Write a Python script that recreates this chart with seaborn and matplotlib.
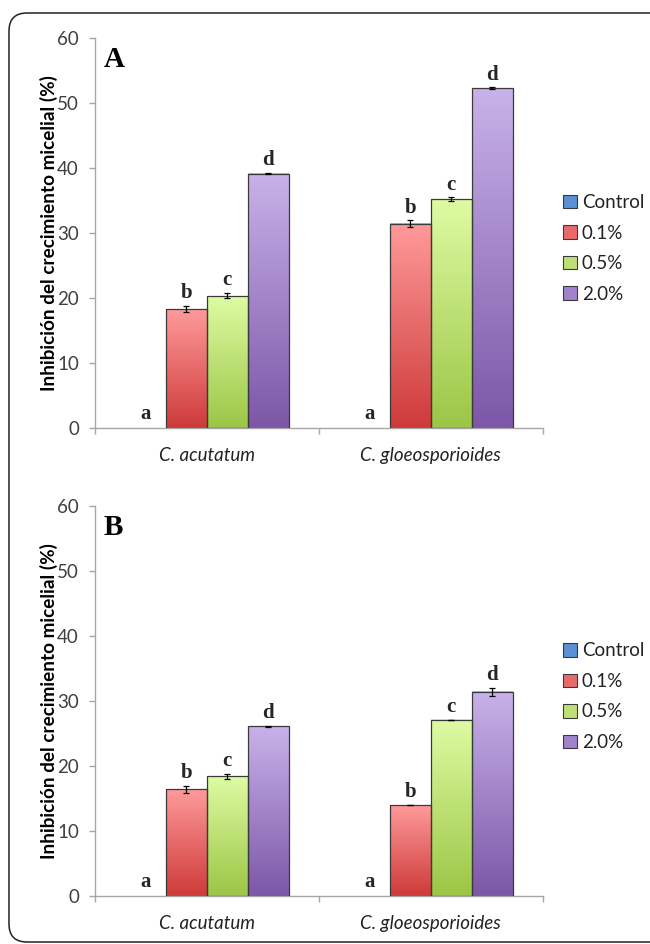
import numpy as np
import pandas as pd
import matplotlib
matplotlib.use("Agg")
import matplotlib.pyplot as plt
import seaborn as sns
from matplotlib.patches import Patch, FancyBboxPatch
from matplotlib.colors import LinearSegmentedColormap

# ---------------- data ----------------
species = ["C. acutatum", "C. gloeosporioides"]
treatments = ["Control", "0.1%", "0.5%", "2.0%"]
sig_letters = ["a", "b", "c", "d"]

# Panel A
A_acutatum = [0.0, 18.3, 20.3, 39.1]
A_acutatum_err = [0.0, 0.45, 0.40, 0.10]
A_gloeo = [0.0, 31.4, 35.2, 52.2]
A_gloeo_err = [0.0, 0.50, 0.25, 0.15]

# Panel B
B_acutatum = [0.0, 16.4, 18.4, 26.1]
B_acutatum_err = [0.0, 0.60, 0.40, 0.05]
B_gloeo = [0.0, 14.0, 27.1, 31.4]
B_gloeo_err = [0.0, 0.05, 0.05, 0.60]

panel_labels = ["A", "B"]
y_label = "Inhibición del crecimiento micelial (%)"

# ---------------- style ----------------
top_colors = ["#7FB2EE", "#FF9A9A", "#DEFBA3", "#C8B2EA"]
bot_colors = ["#3B6DC2", "#CE3A3A", "#9CC646", "#7C57A7"]
mid_colors = ["#5B8FD8", "#E86A6A", "#BDE076", "#A283CB"]
edge = "#3A3A3A"

sns.set_theme(style="white")
plt.rcParams["font.family"] = ["Lato", "DejaVu Sans"]

fig = plt.figure(figsize=(6.5, 9.44), dpi=100)

def build_df(vals_list, errs_list):
    rows = []
    for sp, vals, errs in zip(species, vals_list, errs_list):
        for t, v, e in zip(treatments, vals, errs):
            rows.append(dict(species=sp, treatment=t, value=v, err=e))
    return pd.DataFrame(rows)

def draw_panel(ax, df, letter):
    sns.barplot(data=df, x="species", y="value", hue="treatment",
                order=species, hue_order=treatments,
                palette=dict(zip(treatments, mid_colors)),
                width=0.73, gap=0, errorbar=None, edgecolor=edge,
                linewidth=0.9, legend=False, ax=ax, zorder=3)
    for ti, (cont, t) in enumerate(zip(ax.containers, treatments)):
        cmap = LinearSegmentedColormap.from_list(
            f"g{ti}", [bot_colors[ti], top_colors[ti]])
        for bar, sp in zip(cont, species):
            row = df[(df.species == sp) & (df.treatment == t)].iloc[0]
            x0 = bar.get_x()
            w = bar.get_width()
            xc = x0 + w / 2
            h = bar.get_height()
            if h <= 0:
                bar.set_visible(False)
                ax.annotate(sig_letters[ti], (xc, 0), xytext=(0, 6.5),
                            textcoords="offset points", ha="center",
                            va="baseline", fontsize=15, fontweight="bold",
                            family="Liberation Serif", zorder=6)
                continue
            ax.imshow(np.linspace(0, 1, 256).reshape(-1, 1), cmap=cmap,
                      extent=(x0, x0 + w, 0, h), origin="lower",
                      aspect="auto", interpolation="bicubic", zorder=2)
            bar.set_facecolor("none")
            ax.errorbar(xc, h, yerr=row.err, color="black", lw=0.9,
                        capsize=2.3, capthick=0.9, zorder=5)
            ax.annotate(sig_letters[ti], (xc, h + row.err), xytext=(0, 5.5),
                        textcoords="offset points", ha="center",
                        va="baseline", fontsize=15, fontweight="bold",
                        family="Liberation Serif", zorder=6)

    ax.set_xlim(-0.5, 1.5)
    ax.set_ylim(0, 60)
    ax.set_yticks(range(0, 61, 10))
    for s in ["top", "right"]:
        ax.spines[s].set_visible(False)
    for s in ["left", "bottom"]:
        ax.spines[s].set_color("#A6A6A6")
        ax.spines[s].set_linewidth(1.0)
    ax.tick_params(axis="y", which="major", direction="out", length=4.5,
                   width=1.0, color="#A6A6A6", labelcolor="#404040",
                   labelsize=13.5, pad=7, left=True)
    ax.set_xticks([0, 1])
    ax.set_xticklabels(species, fontstyle="italic", fontsize=13.5,
                       color="#222222")
    ax.set_xticks([-0.5, 0.5, 1.5], minor=True)
    ax.tick_params(axis="x", which="major", length=0, pad=14)
    ax.tick_params(axis="x", which="minor", direction="out", length=4.5,
                   width=1.0, color="#A6A6A6", bottom=True)
    ax.set_xlabel("")
    ax.set_ylabel(y_label, fontsize=13.6, fontweight="bold", color="black")
    ax.yaxis.set_label_coords(-0.082, 0.5)
    ax.text(0.02, 0.926, letter, transform=ax.transAxes, ha="left",
            va="baseline", fontsize=21, fontweight="bold",
            family="Liberation Serif", color="black")

axA = fig.add_axes([0.146, 0.547, 0.689, 0.413])
axB = fig.add_axes([0.146, 0.0508, 0.689, 0.413])

dfA = build_df([A_acutatum, A_gloeo], [A_acutatum_err, A_gloeo_err])
dfB = build_df([B_acutatum, B_gloeo], [B_acutatum_err, B_gloeo_err])
draw_panel(axA, dfA, panel_labels[0])
draw_panel(axB, dfB, panel_labels[1])

handles = [Patch(facecolor=c, edgecolor=edge, linewidth=0.8) for c in mid_colors]
for yc in [0.737, 0.262]:
    fig.legend(handles, treatments, loc="center left",
               bbox_to_anchor=(0.866, yc), frameon=False, fontsize=13.5,
               handlelength=0.75, handleheight=0.75, handletextpad=0.25,
               labelspacing=0.72, borderpad=0, borderaxespad=0,
               labelcolor="#222222")

frame = FancyBboxPatch((0.09, 0.02), 10.0, 9.29,
                       boxstyle="round,pad=0,rounding_size=0.18",
                       transform=fig.dpi_scale_trans, facecolor="none",
                       edgecolor="#222222", linewidth=1.1, clip_on=False)
fig.patches.append(frame)

fig.savefig("out.png", dpi=100)
